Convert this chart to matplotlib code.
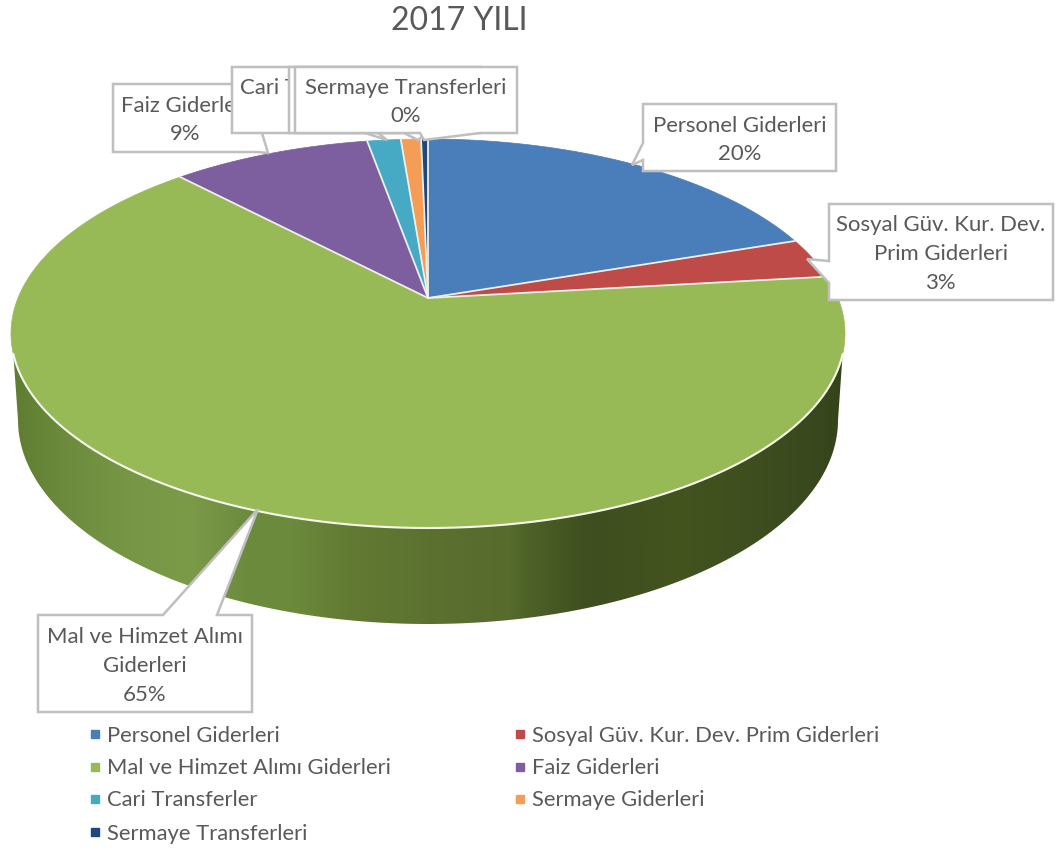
#!/usr/bin/env python3
import numpy as np
import matplotlib
matplotlib.use("Agg")
import matplotlib.pyplot as plt
from matplotlib.patches import Polygon
from matplotlib.colors import LinearSegmentedColormap

plt.rcParams['font.family'] = ['Lato', 'DejaVu Sans']

title = "2017 YILI"
categories = ["Personel Giderleri", "Sosyal Güv. Kur. Dev. Prim Giderleri",
              "Mal ve Himzet Alımı Giderleri", "Faiz Giderleri",
              "Cari Transferler", "Sermaye Giderleri", "Sermaye Transferleri"]
values = [19.8, 3.35, 64.85, 9.2, 1.55, 0.93, 0.32]
colors = ["#4a7ebb", "#be4b48", "#98ba56", "#7d5fa0", "#46aac5", "#f59d56", "#1f497d"]

# texts of the callouts
callout_texts = ["Personel Giderleri\n20%", "Sosyal Güv. Kur. Dev.\nPrim Giderleri\n3%",
                 "Mal ve Himzet Alımı\nGiderleri\n65%", "Faiz Giderleri\n9%",
                 "Cari Transferler\n2%", "Sermaye Giderleri\n1%", "Sermaye Transferleri\n0%"]
# outlines of the callouts in pixels, box with its tail
callout_outlines = [
    [(643, 104), (836, 104), (836, 171), (643, 171), (643, 160), (632, 165), (643, 143)],
    [(829, 204), (1053, 204), (1053, 300), (829, 300), (829, 283), (807, 259), (829, 261)],
    [(38, 615), (163, 615), (258, 509), (217, 615), (252, 615), (252, 712), (38, 712)],
    [(113, 84), (262, 84), (262, 133), (268, 153), (258, 152), (113, 152)],
    [(232, 67), (398, 67), (398, 133), (378, 133), (387, 140), (365, 133), (232, 133)],
    [(289, 67), (481, 67), (481, 133), (426, 133), (418, 140), (404, 133), (289, 133)],
    [(295, 67), (517, 67), (517, 133), (480, 133), (424, 140), (420, 133), (295, 133)],
]
callout_centers = [(740, 140), (941, 254), (145, 666), (185, 120), (316, 102), (385, 102), (406, 102)]

# side wall shading from left to right
wall_x = [11, 60, 130, 190, 250, 290, 350, 430, 510, 525, 590, 680, 800, 846]
wall_colors = ["#5f7d30", "#6c8a3c", "#779746", "#7b9b49", "#6b8a3c", "#6c8a3c", "#627a33",
               "#5c7130", "#566b2c", "#4e6328", "#3e4e1f", "#43541f", "#3b4a1e", "#34431a"]


def project(t):
    # t clockwise from the top, one turn = 2 pi; perspective circle -> pixels
    k, a, b = 0.1826, 410, 188
    x, y = np.sin(t), np.cos(t)
    w = 1 + k * y
    return 428 + a * x / w, 298 - b * y / w


fig = plt.figure(figsize=(10.62, 8.51), dpi=100)
ax = fig.add_axes([0, 0, 1, 1])

# side wall: front of the rim, then straight sides into the lower half ellipse
t = np.linspace(0, 2 * np.pi, 721)
rx, ry = project(t)
front = ry >= 353
s = np.linspace(np.pi / 2, 3 * np.pi / 2, 300)
low_x = 428 + 410 * np.sin(s)
low_y = 420 - 204 * np.cos(s)
wall = np.column_stack([np.r_[rx[front], low_x[::-1]], np.r_[ry[front], low_y[::-1]]])
wall_patch = Polygon(wall, closed=True, facecolor='none', edgecolor='none')
ax.add_patch(wall_patch)
stops = [(x - wall_x[0]) / (wall_x[-1] - wall_x[0]) for x in wall_x]
cmap = LinearSegmentedColormap.from_list('wall', list(zip(stops, wall_colors)))
img = ax.imshow(np.linspace(0, 1, 512)[None, :], cmap=cmap, aspect='auto',
                extent=(wall_x[0], wall_x[-1], 640, 300), zorder=1)
img.set_clip_path(wall_patch)
ax.set_xlim(0, 1062)
ax.set_ylim(851, 0)
ax.axis('off')

# top face
edges = np.cumsum([0] + values) / sum(values) * 2 * np.pi
for i, c in enumerate(colors):
    tt = np.linspace(edges[i], edges[i + 1], 200)
    px, py = project(tt)
    ax.add_patch(Polygon(np.column_stack([np.r_[428, px], np.r_[298, py]]), closed=True,
                         facecolor=c, edgecolor=c, linewidth=0.5, zorder=2))
for e in edges[:-1]:
    ex, ey = project(e)
    ax.plot([428, ex], [298, ey], color='#eef0ea', linewidth=1.3, zorder=2.1)
ax.plot(rx[front], ry[front], color='#f7f9f0', linewidth=1.5, zorder=2.1)

# callouts
for i, (outline, txt) in enumerate(zip(callout_outlines, callout_texts)):
    ax.add_patch(Polygon(outline, closed=True, facecolor='white', edgecolor='#bfbfbf',
                         linewidth=1.8, joinstyle='miter', zorder=3 + i * 0.1))
    cx, cy = callout_centers[i]
    ax.text(cx, cy, txt, ha='center', va='center', fontsize=15.9, color='#595959',
            linespacing=1.55, zorder=3 + i * 0.1)

ax.text(459, 21, title, ha='center', va='center', fontsize=23, color='#595959')

# legend
legend_pos = [(95, 734), (520, 734), (95, 767), (520, 767), (95, 799), (520, 799), (95, 832)]
for (x, y), name, c in zip(legend_pos, categories, colors):
    ax.plot([x], [y], marker='s', markersize=6, color=c, linestyle='none')
    ax.text(x + 12, y + 1.5, name, ha='left', va='center', fontsize=15.8, color='#595959')

fig.savefig("out.png", dpi=100)
